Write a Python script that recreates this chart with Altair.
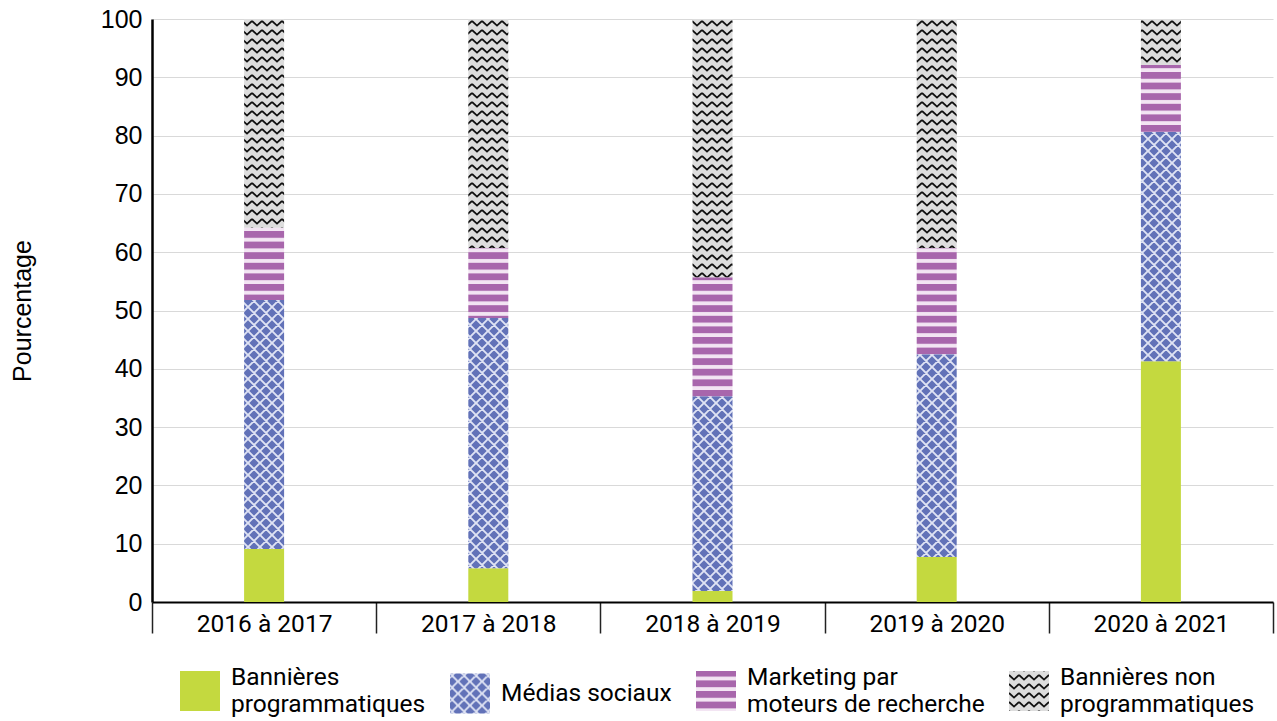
import altair as alt
import pandas as pd
from altair.utils import html as alt_html

periods = ["2016 à 2017", "2017 à 2018", "2018 à 2019", "2019 à 2020", "2020 à 2021"]
series = [
    "Bannières programmatiques",
    "Médias sociaux",
    "Marketing par moteurs de recherche",
    "Bannières non programmatiques",
]
prog = [9.1, 5.8, 1.9, 7.7, 41.3]
social = [42.7, 42.9, 33.4, 34.8, 39.3]
sem = [12.4, 12.0, 20.4, 18.2, 11.5]
nonprog = [35.8, 39.3, 44.3, 39.3, 7.9]

fills = ["#c4d93f", "url(#pSocial)", "url(#pSem)", "url(#pNon)"]

rows = []
for i, p in enumerate(periods):
    for k, vals in enumerate([prog, social, sem, nonprog]):
        rows.append({"period": p, "series": series[k], "value": vals[i], "ord": k})
df = pd.DataFrame(rows)

DEFS = (
    '<svg width="0" height="0" style="position:absolute;width:0;height:0;overflow:hidden" aria-hidden="true"><defs>'
    '<pattern id="pSocial" patternUnits="userSpaceOnUse" width="12" height="12">'
    '<rect width="12" height="12" fill="#6272b8"/>'
    '<path d="M0,0 L12,12 M12,0 L0,12 M-2,10 L2,14 M10,-2 L14,2 M-2,2 L2,-2 M10,14 L14,10" stroke="#dfe3f4" stroke-width="1.9" fill="none"/>'
    '</pattern>'
    '<pattern id="pSem" patternUnits="userSpaceOnUse" width="10" height="10.6">'
    '<rect width="10" height="10.6" fill="#f3e5f3"/>'
    '<rect y="0" width="10" height="6.8" fill="#a866ac"/>'
    '</pattern>'
    '<pattern id="pNon" patternUnits="userSpaceOnUse" width="10" height="9">'
    '<rect width="10" height="9" fill="#dddddd"/>'
    '<path d="M0,2 L5,6.6 L10,2" stroke="#111111" stroke-width="1.8" fill="none"/>'
    '</pattern>'
    '</defs></svg>'
)


class PatternTemplate:
    def render(self, **kw):
        page = alt_html.HTML_TEMPLATE.render(**kw)
        if '<div id="' in page:
            return page.replace('<div id="', DEFS + '<div id="', 1)
        return page.replace("</body>", DEFS + "</body>", 1)


label_expr = (
    "datum.label == 'Bannières programmatiques' ? ['Bannières', 'programmatiques'] : "
    "datum.label == 'Marketing par moteurs de recherche' ? ['Marketing par', 'moteurs de recherche'] : "
    "datum.label == 'Bannières non programmatiques' ? ['Bannières non', 'programmatiques'] : datum.label"
)

chart = (
    alt.Chart(df)
    .mark_bar(size=40, strokeWidth=0)
    .encode(
        x=alt.X(
            "period:N",
            sort=periods,
            scale=alt.Scale(paddingInner=0, paddingOuter=0),
            axis=alt.Axis(
                title=None,
                labelAngle=0,
                tickBand="extent",
                tickSize=31,
                tickColor="#222222",
                tickWidth=1.5,
                domainColor="black",
                domainWidth=2,
                labelFont="Roboto",
                labelFontSize=24.5,
                labelColor="black",
                labelPadding=-21,
                grid=False,
            ),
        ),
        y=alt.Y(
            "value:Q",
            stack="zero",
            scale=alt.Scale(domain=[0, 100], nice=False),
            axis=alt.Axis(
                title="Pourcentage",
                values=list(range(0, 101, 10)),
                ticks=False,
                domainColor="black",
                domainWidth=2.5,
                gridColor="#d9d9d9",
                gridWidth=1,
                labelFont="Liberation Sans",
                labelFontSize=25,
                labelColor="black",
                labelPadding=10,
                titleFont="Liberation Sans",
                titleFontSize=25,
                titleFontWeight="normal",
                titleColor="black",
                titlePadding=65,
            ),
        ),
        color=alt.Color(
            "series:N",
            sort=series,
            scale=alt.Scale(domain=series, range=fills),
            legend=alt.Legend(
                orient="none",
                legendX=28,
                legendY=652,
                direction="horizontal",
                columns=4,
                title=None,
                symbolType="square",
                symbolSize=1600,
                symbolStrokeWidth=0,
                labelFont="Roboto",
                labelFontSize=24.5,
                labelColor="black",
                labelLimit=500,
                labelOffset=11,
                columnPadding=24,
                labelBaseline={"expr": "datum.value == 'Médias sociaux' ? 'middle' : 'line-bottom'"},
                labelExpr=label_expr,
            ),
        ),
        order=alt.Order("ord:Q", sort="ascending"),
    )
    .properties(
        width=1121,
        height=583,
        autosize=alt.AutoSizeParams(type="none"),
        padding={"left": 152, "top": 19, "right": 4, "bottom": 119},
    )
    .configure_view(stroke=None)
)

try:
    chart.save("out.html", embed_options={"renderer": "svg", "actions": False}, template=PatternTemplate())
except TypeError:
    chart.save("out.html", embed_options={"renderer": "svg", "actions": False})
